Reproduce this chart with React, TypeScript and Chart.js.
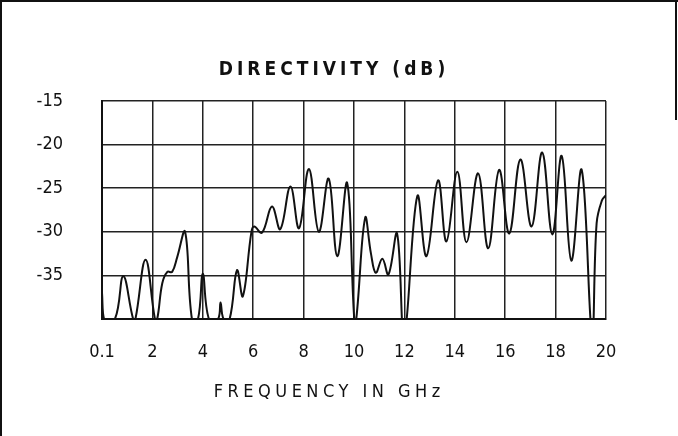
import React, { useEffect, useRef } from 'react';
import { Chart, registerables } from 'chart.js';

Chart.register(...registerables);

// Frequency (GHz) of traced points
const freqGHz = [
  0.1, 0.18, 0.61, 0.94, 1.33, 1.42, 1.82, 2.19, 2.28, 2.48, 2.68, 2.87, 3.07, 3.38,
  3.65, 3.89, 4.08, 4.32, 4.68, 4.78, 4.9, 5.14, 5.43, 5.66, 6.0, 6.11, 6.42, 6.81,
  7.14, 7.54, 7.88, 8.27, 8.66, 9.05, 9.39, 9.78, 10.06, 10.14, 10.49, 10.72, 10.91,
  11.17, 11.41, 11.75, 12.03, 12.55, 12.91, 13.37, 13.7, 14.13, 14.49, 14.95, 15.35,
  15.78, 16.18, 16.62, 17.06, 17.48, 17.88, 18.25, 18.63, 19.04, 19.45, 19.63, 19.84, 20.0,
];

// Directivity (dB) at those frequencies
const directivityDb = [
  -37.0, -40, -40, -35.1, -40, -40, -33.2, -40, -40, -35.9, -34.6, -34.6, -32.9, -30.0,
  -40, -40, -34.8, -40, -40, -38.1, -40, -40, -34.4, -37.4, -30.0, -29.4, -30.1, -27.1,
  -29.7, -24.8, -29.6, -22.8, -30.0, -23.9, -32.8, -24.4, -40, -40, -28.4, -32.5, -34.7,
  -33.1, -34.9, -30.2, -42, -25.9, -32.8, -24.1, -31.1, -23.1, -31.2, -23.3, -31.9,
  -22.9, -30.2, -21.7, -29.4, -20.9, -30.3, -21.3, -33.3, -22.9, -42, -29.0, -26.4, -25.8,
];

const xTickValues = [0.1, 2.09, 4.08, 6.07, 8.06, 10.05, 12.04, 14.03, 16.02, 18.01, 20.0];
const xTickLabels = ['0.1', '2', '4', '6', '8', '10', '12', '14', '16', '18', '20'];
const yTickValues = [-40, -35, -30, -25, -20, -15];
const yTickLabels = ['', '-35', '-30', '-25', '-20', '-15'];

const chartTitle = 'DIRECTIVITY (dB)';
const xAxisTitle = 'FREQUENCY IN GHz';

const FONT_FAMILY = '"DejaVu Sans Condensed", "Liberation Sans Narrow", "DejaVu Sans", sans-serif';
const INK = '#111';

const decorPlugin = {
  id: 'decor',
  afterDraw(chart: any) {
    const ctx = chart.ctx as CanvasRenderingContext2D;
    ctx.save();
    // page frame
    ctx.fillStyle = INK;
    ctx.fillRect(0, 0, 678, 2);
    ctx.fillRect(0, 0, 2, 436);
    ctx.fillRect(675, 0, 2, 120);

    ctx.textAlign = 'center';
    ctx.textBaseline = 'middle';
    // title
    const ls1 = 4;
    (ctx as any).letterSpacing = ls1 + 'px';
    ctx.font = 'bold 19px ' + FONT_FAMILY;
    ctx.fillText(chartTitle, 332 + ls1 / 2, 70);
    // x axis title
    const ls2 = 4.5;
    (ctx as any).letterSpacing = ls2 + 'px';
    ctx.font = '18px ' + FONT_FAMILY;
    ctx.fillText(xAxisTitle, 327 + ls2 / 2, 392);
    ctx.restore();
  },
};

export default function App() {
  const ref = useRef<HTMLCanvasElement | null>(null);

  useEffect(() => {
    if (!ref.current) return;
    const data = freqGHz.map((f, i) => ({ x: f, y: directivityDb[i] }));
    const tickFont = { family: FONT_FAMILY, size: 18, weight: 'normal' as const };
    const chart = new Chart(ref.current, {
      type: 'line',
      data: {
        datasets: [
          {
            data,
            borderColor: INK,
            borderWidth: 2,
            pointRadius: 0,
            tension: 0.4,
            fill: false,
          },
        ],
      },
      plugins: [decorPlugin],
      options: {
        animation: false,
        responsive: false,
        devicePixelRatio: 1,
        layout: { padding: { top: 101, right: 72, left: 0, bottom: 0 } },
        plugins: {
          legend: { display: false },
          title: { display: false },
          tooltip: { enabled: false },
        },
        scales: {
          x: {
            type: 'linear',
            min: 0.1,
            max: 20,
            afterBuildTicks: (s: any) => {
              s.ticks = xTickValues.map((v) => ({ value: v }));
            },
            afterFit: (s: any) => {
              s.height = 117;
            },
            ticks: {
              autoSkip: false,
              maxRotation: 0,
              padding: 23,
              color: INK,
              font: tickFont,
              callback: (_v: any, i: number) => xTickLabels[i],
            },
            grid: { color: '#222', lineWidth: 1.5, drawTicks: false },
            border: { color: INK, width: 2 },
          },
          y: {
            type: 'linear',
            min: -40,
            max: -15,
            afterBuildTicks: (s: any) => {
              s.ticks = yTickValues.map((v) => ({ value: v }));
            },
            afterFit: (s: any) => {
              s.width = 102;
            },
            ticks: {
              padding: 39,
              color: INK,
              font: tickFont,
              callback: (_v: any, i: number) => yTickLabels[i],
            },
            grid: { color: '#222', lineWidth: 1.5, drawTicks: false },
            border: { color: INK, width: 2 },
          },
        },
      },
    });
    return () => chart.destroy();
  }, []);

  return (
    <div style={{ position: 'absolute', left: 0, top: 0, width: 678, height: 436, background: '#fff' }}>
      <canvas ref={ref} width={678} height={436} style={{ width: 678, height: 436, display: 'block' }} />
    </div>
  );
}
